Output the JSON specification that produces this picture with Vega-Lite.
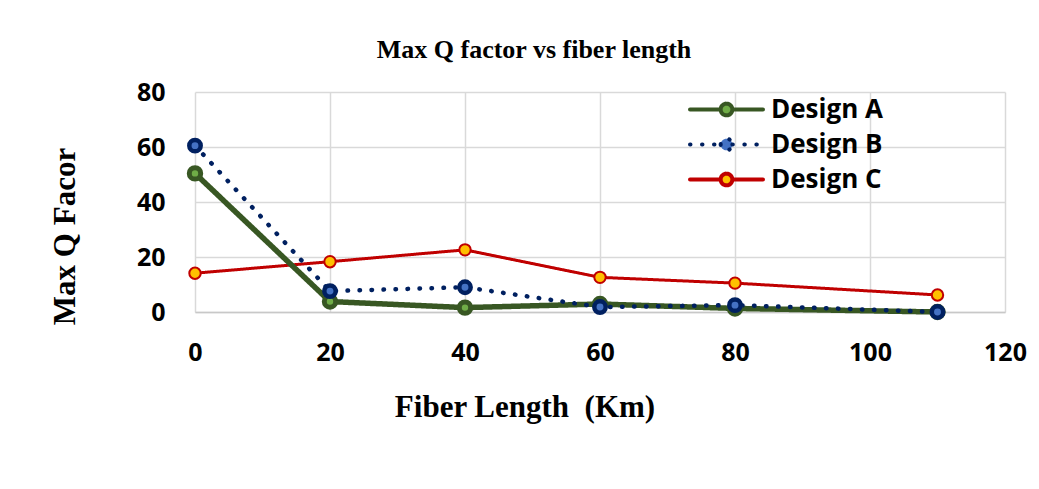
{
  "$schema": "https://vega.github.io/schema/vega-lite/v6.json",
  "width": 810,
  "height": 220,
  "autosize": {"type": "none"},
  "padding": {"left": 195, "top": 92, "right": 34, "bottom": 177},
  "background": "white",
  "title": {
    "text": "Max Q factor vs fiber length",
    "font": "Liberation Serif",
    "fontSize": 26,
    "fontWeight": "bold",
    "color": "black",
    "anchor": "middle",
    "dx": -66,
    "offset": 17
  },
  "data": {
    "values": [
      {"km": 0, "series": "Design C", "q": 14.1},
      {"km": 20, "series": "Design C", "q": 18.3},
      {"km": 40, "series": "Design C", "q": 22.6},
      {"km": 60, "series": "Design C", "q": 12.6},
      {"km": 80, "series": "Design C", "q": 10.5},
      {"km": 110, "series": "Design C", "q": 6.2},
      {"km": 0, "series": "Design A", "q": 50.4},
      {"km": 20, "series": "Design A", "q": 3.8},
      {"km": 40, "series": "Design A", "q": 1.6},
      {"km": 60, "series": "Design A", "q": 2.9},
      {"km": 80, "series": "Design A", "q": 1.3},
      {"km": 110, "series": "Design A", "q": 0},
      {"km": 0, "series": "Design B", "q": 60.5},
      {"km": 20, "series": "Design B", "q": 7.6},
      {"km": 40, "series": "Design B", "q": 9.0},
      {"km": 60, "series": "Design B", "q": 1.8},
      {"km": 80, "series": "Design B", "q": 2.5},
      {"km": 110, "series": "Design B", "q": 0}
    ]
  },
  "encoding": {
    "x": {
      "field": "km",
      "type": "quantitative",
      "scale": {"domain": [0, 120], "nice": false, "zero": false},
      "axis": {
        "values": [0, 20, 40, 60, 80, 100, 120],
        "grid": true,
        "gridColor": "#d9d9d9",
        "gridWidth": 1.5,
        "domain": true,
        "domainColor": "#c8c8c8",
        "domainWidth": 1.5,
        "ticks": false,
        "labelFont": "Open Sans",
        "labelFontSize": 25,
        "labelFontWeight": "bold",
        "labelColor": "black",
        "labelPadding": 28,
        "labelFlush": false,
        "labelOverlap": false,
        "title": "Fiber Length\u00a0 (Km)",
        "titleFont": "Liberation Serif",
        "titleFontSize": 31,
        "titleFontWeight": "bold",
        "titleColor": "black",
        "titlePadding": 27,
        "titleX": 329.5
      }
    },
    "y": {
      "field": "q",
      "type": "quantitative",
      "scale": {"domain": [0, 80], "nice": false},
      "axis": {
        "values": [0, 20, 40, 60, 80],
        "grid": true,
        "gridColor": "#d9d9d9",
        "gridWidth": 1.5,
        "domain": false,
        "ticks": false,
        "labelFont": "Open Sans",
        "labelFontSize": 25,
        "labelFontWeight": "bold",
        "labelColor": "black",
        "labelPadding": 30,
        "labelOverlap": false,
        "title": "Max Q Facor",
        "titleFont": "Liberation Serif",
        "titleFontSize": 31,
        "titleFontWeight": "bold",
        "titleColor": "black",
        "titlePadding": 55,
        "titleY": 144
      }
    },
    "stroke": {
      "field": "series",
      "type": "nominal",
      "scale": {"domain": ["Design A", "Design B", "Design C"], "range": ["#385723", "#002060", "#c00000"]},
      "legend": {"title": null, "encode": {"symbols": {"update": {"strokeCap": {"value": "round"}}}}}
    }
  },
  "layer": [
    {
      "mark": {"type": "line", "strokeCap": "round", "strokeJoin": "round"},
      "encoding": {
        "strokeDash": {
          "field": "series",
          "type": "nominal",
          "scale": {"domain": ["Design A", "Design B", "Design C"], "range": [[1, 0], [0.5, 11.5], [1, 0]]},
          "legend": {"title": null, "encode": {"symbols": {"update": {"strokeCap": {"value": "round"}}}}}
        },
        "strokeWidth": {
          "condition": [
            {"test": "datum.series === 'Design A'", "value": 5.5},
            {"test": "datum.series === 'Design B'", "value": 4.5}
          ],
          "value": 3
        }
      }
    },
    {
      "mark": {"type": "point", "shape": "circle", "opacity": 1},
      "encoding": {
        "fill": {
          "field": "series",
          "type": "nominal",
          "scale": {"domain": ["Design A", "Design B", "Design C"], "range": ["#70ad47", "#4472c4", "#ffc000"]},
          "legend": {"title": null, "encode": {"symbols": {"update": {"strokeCap": {"value": "round"}}}}}
        },
        "size": {"value": 130},
        "strokeWidth": {
          "condition": [
            {"test": "datum.series === 'Design A'", "value": 5},
            {"test": "datum.series === 'Design B'", "value": 4.5}
          ],
          "value": 2
        }
      }
    }
  ],
  "config": {
    "view": {"stroke": null},
    "legend": {
      "orient": "none",
      "legendX": 511,
      "legendY": -3,
      "padding": 0,
      "symbolType": "M-2,0H-0.32M0.32,0H2M-0.32,0A0.32,0.32 0 1,0 0.32,0A0.32,0.32 0 1,0 -0.32,0Z",
      "symbolSize": 1332,
      "symbolStrokeWidth": 4,
      "labelFont": "Open Sans",
      "labelFontSize": 26,
      "labelFontWeight": "bold",
      "labelColor": "black",
      "labelOffset": 24,
      "rowPadding": 0,
      "labelLimit": 300
    }
  }
}
